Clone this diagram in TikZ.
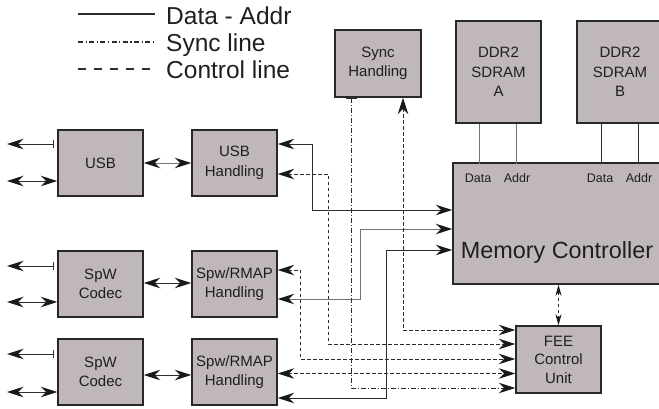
\documentclass[tikz,border=0pt]{standalone}
\usepackage{fontspec}
\setmainfont{Liberation Sans}
\usetikzlibrary{arrows.meta}
\definecolor{boxfill}{RGB}{191,183,186}
\definecolor{edge}{RGB}{40,40,40}
\definecolor{wire}{RGB}{45,45,45}
\definecolor{wirelight}{RGB}{115,115,115}
\begin{document}
\begin{tikzpicture}[x=1pt, y=-1pt,
  tipbig/.tip={Stealth[length=16.5pt,width=10.5pt,inset=5.5pt,color=black!90]},
  tipsmall/.tip={Stealth[length=11pt,width=6pt,inset=3.5pt,color=black!90]},
  blk/.style={draw=edge, line width=1.5pt, fill=boxfill, inner sep=0pt,
    align=center, text=black!88, font=\fontsize{15}{19.5}\selectfont,
    minimum width=85pt, minimum height=66pt},
  sol/.style={draw=wire, line width=0.9pt},
  soll/.style={draw=wirelight, line width=1pt},
  ctl/.style={draw=wire, line width=0.8pt, dash pattern=on 3.5pt off 2.5pt},
  syn/.style={draw=wire, line width=0.8pt, dash pattern=on 5pt off 2pt on 1pt off 2pt},
  lbl/.style={anchor=base, inner sep=0pt, text=black!88, font=\fontsize{12.5}{14}\selectfont},
  legtxt/.style={anchor=base west, inner sep=0pt, text=black!88, font=\fontsize{24.5}{27}\selectfont}
]
\useasboundingbox (0,0) rectangle (659,408);
\clip (0,0) rectangle (659,408);

% ---- legend ----
\coordinate (la1) at (78,14);  \coordinate (lb1) at (155,14);
\coordinate (la2) at (78,42);  \coordinate (lb2) at (155,42);
\coordinate (la3) at (78,69);  \coordinate (lb3) at (155,69);
\draw[draw=wire, line width=1.3pt] (la1) -- (lb1);
\draw[draw=wire, line width=1.1pt, dash pattern=on 5pt off 2.5pt on 1.2pt off 2.5pt] (la2) -- (lb2);
\draw[draw=wire, line width=1.1pt, dash pattern=on 8pt off 8pt] (la3) -- (lb3);
\node[legtxt] (leg1) at (166,24) {Data - Addr};
\node[legtxt] (leg2) at (166,51) {Sync line};
\node[legtxt] (leg3) at (166,78) {Control line};

% ---- blocks ----
\node[blk] (usb)   at (100.5,163) {USB};
\node[blk] (usbh)  at (234.5,163) {USB\\Handling};
\node[blk] (spw1)  at (100.5,284) {SpW\\Codec};
\node[blk] (rmap1) at (234.5,284) {Spw/RMAP\\Handling};
\node[blk] (spw2)  at (100.5,372) {SpW\\Codec};
\node[blk] (rmap2) at (234.5,372) {Spw/RMAP\\Handling};
\node[blk, minimum width=86pt, minimum height=67pt] (sync) at (378,63.5) {Sync\\Handling};
\node[blk, minimum height=102pt] (ddra) at (498.5,72) {DDR2\\SDRAM\\A};
\node[blk, minimum width=86pt, minimum height=102pt] (ddrb) at (620,72) {DDR2\\SDRAM\\B};
\node[blk, minimum width=208pt, minimum height=121pt] (mc) at (557,223.5) {};
\node[lbl, font=\fontsize{23.4}{26}\selectfont] (mctxt) at (557,258) {Memory Controller};
\node[lbl] (da) at (478,182) {Data};
\node[lbl] (aa) at (517,182) {Addr};
\node[lbl] (db) at (600,182) {Data};
\node[lbl] (ab) at (639,182) {Addr};
\node[blk, minimum height=67pt, font=\fontsize{15}{18.5}\selectfont] (fee) at (558.5,359.5) {FEE\\Control\\Unit};

% ---- external ports on the left ----
\coordinate (uo1) at (7,144);  \coordinate (uo2) at (7,181);
\coordinate (so1) at (7,266);  \coordinate (so2) at (7,302);
\coordinate (to1) at (7,354);  \coordinate (to2) at (7,392);
\draw[sol, {Bar[width=8pt]}-tipbig, shorten <=3pt] (usb.west |- uo1) -- (uo1);
\draw[sol, tipbig-tipbig] (uo2) -- (usb.west |- uo2);
\draw[sol, {Bar[width=8pt]}-tipbig, shorten <=3pt] (spw1.west |- so1) -- (so1);
\draw[sol, tipbig-tipbig] (so2) -- (spw1.west |- so2);
\draw[sol, {Bar[width=8pt]}-tipbig, shorten <=3pt] (spw2.west |- to1) -- (to1);
\draw[sol, tipbig-tipbig] (to2) -- (spw2.west |- to2);

% ---- codec to handling links ----
\draw[soll, tipbig-tipbig] (usb.east) -- (usbh.west);
\draw[sol, tipbig-tipbig] ([yshift=1pt]spw1.east) -- ([yshift=1pt]rmap1.west);
\draw[sol, tipbig-tipbig] ([yshift=-3pt]spw2.east) -- ([yshift=-3pt]rmap2.west);

% ---- data / address buses to the memory controller ----
\draw[sol, tipbig-tipbig] ([yshift=19pt]usbh.east) -- ++(35,0) |- ([yshift=13.5pt]mc.west);
\draw[soll, tipbig-tipbig] ([yshift=-15pt]rmap1.east) -- ++(83,0) |- ([yshift=-5.5pt]mc.west);
\draw[sol, tipbig-tipbig] ([yshift=-26pt]rmap2.east) -- ++(109,0) |- ([yshift=-26.5pt]mc.west);

% ---- control lines to the FEE control unit ----
\draw[ctl, tipbig-tipbig] ([xshift=25pt]sync.south) |- ([yshift=29.5pt]fee.west);
\draw[ctl, tipbig-tipbig] ([yshift=-11pt]usbh.east) -- ++(51,0) |- ([yshift=15.5pt]fee.west);
\draw[ctl, tipbig-tipbig] ([yshift=14pt]rmap1.east) -- ++(23,0) |- ([yshift=0.5pt]fee.west);
\draw[ctl, tipbig-tipbig] ([yshift=-1.5pt]rmap2.east) -- ([yshift=-14pt]fee.west);
\draw[ctl, tipsmall-tipsmall] (fee.north |- mc.south) -- (fee.north);

% ---- sync line ----
\draw[syn, {Bar[width=11pt]}-tipbig] ([xshift=-27pt]sync.south) |- ([yshift=-28.5pt]fee.west);

% ---- memory chips to the controller ----
\draw[soll] ([xshift=-19.5pt]ddra.south) -- ++(0,40);
\draw[soll] ([xshift=17.5pt]ddra.south) -- ++(0,40);
\draw[sol]  ([xshift=-19pt]ddrb.south) -- ++(0,40);
\draw[sol]  ([xshift=18pt]ddrb.south) -- ++(0,40);
\end{tikzpicture}
\end{document}
